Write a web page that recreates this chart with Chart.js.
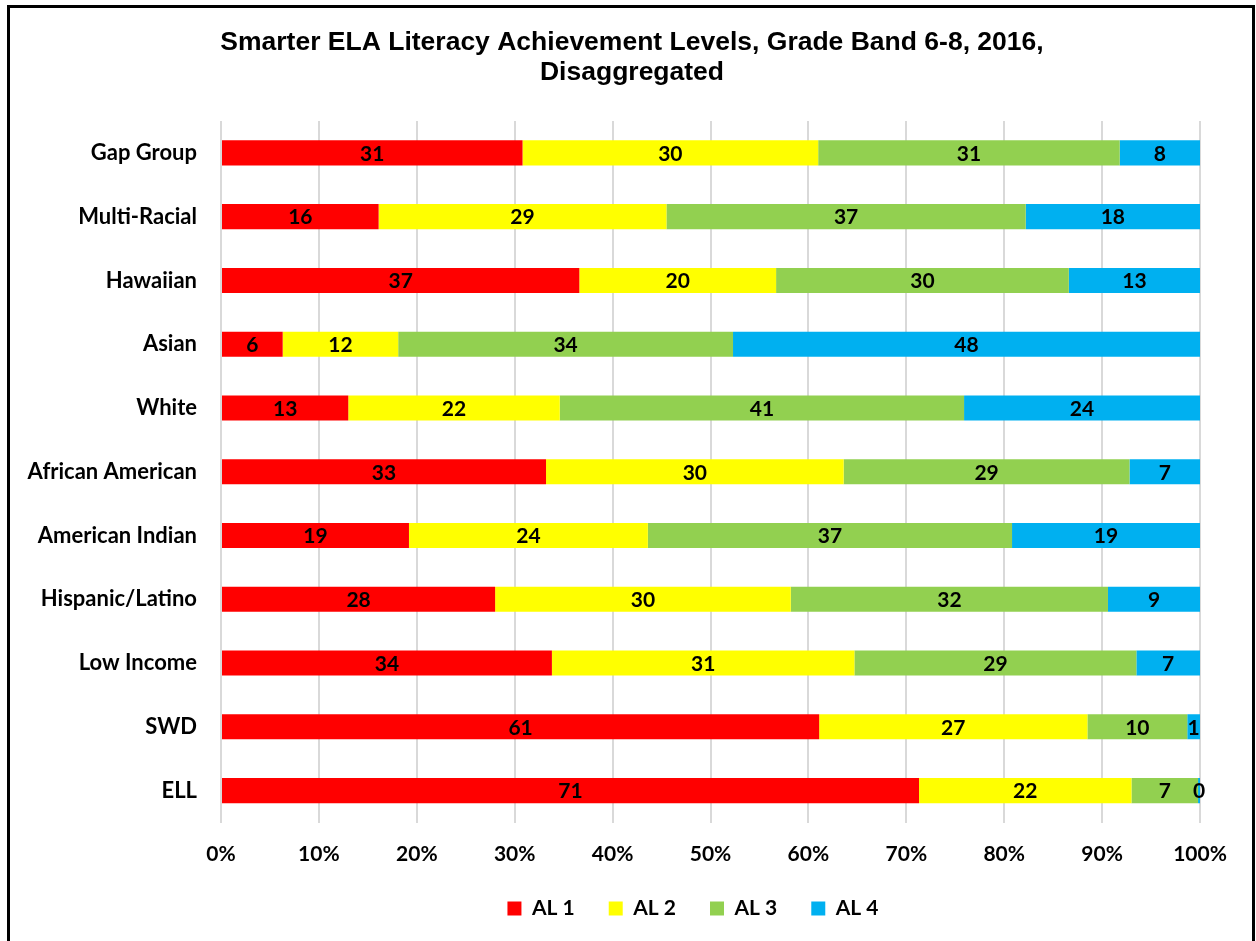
<!DOCTYPE html>
<html><head><meta charset="utf-8">
<script src="https://cdn.jsdelivr.net/npm/chart.js@4.4.0/dist/chart.umd.min.js"></script>
<style>html,body{margin:0;padding:0;background:#fff;}#wrap{position:relative;width:1256px;height:941px;}</style>
</head><body><div id="wrap"><canvas id="c" width="1256" height="941"></canvas></div>
<script>
const categories = ['Gap Group','Multi-Racial','Hawaiian','Asian','White','African American','American Indian','Hispanic/Latino','Low Income','SWD','ELL'];
const seriesNames = ['AL 1','AL 2','AL 3','AL 4'];
const al1 = [30.8, 16.1, 36.6, 6.3, 13.0, 33.2, 19.2, 28.0, 33.8, 61.1, 71.3];
const al2 = [30.2, 29.4, 20.1, 11.8, 21.6, 30.4, 24.4, 30.2, 30.9, 27.4, 21.7];
const al3 = [30.8, 36.7, 29.9, 34.2, 41.3, 29.2, 37.2, 32.4, 28.8, 10.2, 6.8];
const al4 = [8.2, 17.8, 13.4, 47.7, 24.1, 7.2, 19.2, 9.4, 6.5, 1.3, 0.2];
const xTickLabels = ['0%','10%','20%','30%','40%','50%','60%','70%','80%','90%','100%'];
const colors = ['#FF0000','#FFFF00','#92D050','#00B0F0'];

const LABEL_FONT = '"Lato", "Open Sans", sans-serif';

const framePlugin = {
  id: 'frame',
  beforeDraw(chart) {
    const ctx = chart.ctx;
    ctx.save();
    ctx.fillStyle = '#fff';
    ctx.fillRect(0, 0, chart.width, chart.height);
    ctx.strokeStyle = '#000';
    ctx.lineWidth = 3;
    ctx.strokeRect(8.5, 6.5, 1245, 1000);
    ctx.restore();
  }
};

const barLabelPlugin = {
  id: 'barLabels',
  afterDatasetsDraw(chart) {
    const ctx = chart.ctx;
    ctx.save();
    ctx.font = 'bold 21px ' + LABEL_FONT;
    ctx.fillStyle = '#000';
    ctx.textAlign = 'center';
    ctx.textBaseline = 'middle';
    chart.data.datasets.forEach((ds, di) => {
      const meta = chart.getDatasetMeta(di);
      meta.data.forEach((el, i) => {
        const v = ds.data[i];
        const cx = (el.x + el.base) / 2;
        ctx.fillText(String(Math.round(v)), cx, el.y + 1);
      });
    });
    ctx.restore();
  }
};

const boxShiftPlugin = {
  id: 'boxShift',
  afterLayout(chart) {
    const lg = chart.legend;
    if (lg) { lg.left += 93; lg.right += 93; }
    const tb = chart.titleBlock;
    if (tb) { tb.left += 32; tb.right += 32; }
  }
};

new Chart(document.getElementById('c'), {
  type: 'bar',
  data: {
    labels: categories,
    datasets: [al1, al2, al3, al4].map((d, i) => ({
      label: seriesNames[i],
      data: d,
      backgroundColor: colors[i],
      borderWidth: 0,
      categoryPercentage: 1,
      barPercentage: 0.393
    }))
  },
  options: {
    indexAxis: 'y',
    responsive: false,
    devicePixelRatio: 1,
    animation: false,
    layout: { padding: { left: 0, right: 56, top: 0, bottom: 12 } },
    scales: {
      x: {
        stacked: true,
        min: 0, max: 100,
        ticks: {
          stepSize: 10,
          padding: 19,
          color: '#000',
          font: { family: LABEL_FONT, size: 21, weight: 'bold' },
          callback: (v, i) => xTickLabels[i]
        },
        grid: { color: '#D9D9D9', lineWidth: 2, drawTicks: false },
        border: { display: false },
        afterFit: (s) => { s.height = 41.5; }
      },
      y: {
        stacked: true,
        ticks: {
          padding: 24,
          color: '#000',
          font: { family: LABEL_FONT, size: 22, weight: 'bold' }
        },
        grid: { display: false, drawTicks: false },
        border: { display: false },
        afterFit: (s) => { s.width = 221; }
      }
    },
    plugins: {
      title: {
        display: true,
        text: ['Smarter ELA Literacy Achievement Levels, Grade Band 6-8, 2016,', 'Disaggregated'],
        color: '#000',
        font: { family: '"Liberation Sans", Arial, sans-serif', size: 26.5, weight: 'bold', lineHeight: 1.132 },
        padding: { top: 28, bottom: 33 }
      },
      legend: {
        position: 'bottom',
        labels: {
          boxWidth: 14,
          boxHeight: 14,
          padding: 34,
          color: '#000',
          font: { family: LABEL_FONT, size: 21, weight: 'bold' }
        }
      },
      tooltip: { enabled: false }
    }
  },
  plugins: [framePlugin, barLabelPlugin, boxShiftPlugin]
});
</script>
</body></html>
